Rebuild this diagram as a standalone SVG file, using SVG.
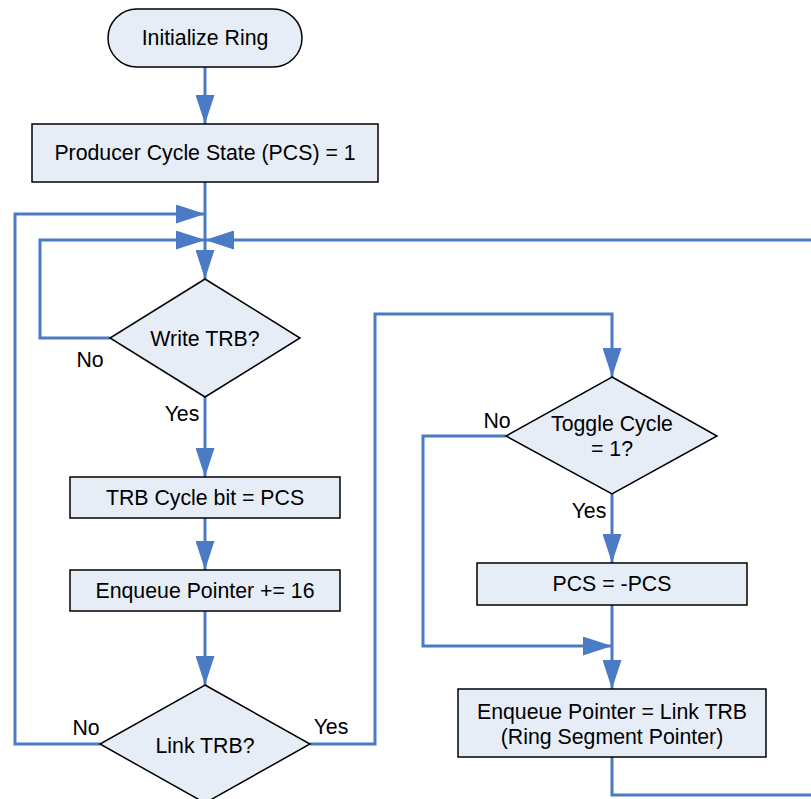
<svg xmlns="http://www.w3.org/2000/svg" width="811" height="799" viewBox="0 0 811 799">
<defs>
<style>
.n{fill:#e6edf7;stroke:#000;stroke-width:1.5}
.t{font-family:"Liberation Sans",Arial,sans-serif;font-size:21.3px;fill:#000;text-anchor:middle;dominant-baseline:central}
.c{fill:none;stroke:#4a7bc4;stroke-width:3}
.a{marker-end:url(#ah)}
</style>
<marker id="ah" markerUnits="userSpaceOnUse" markerWidth="29" markerHeight="19" viewBox="0 0 29 19" refX="29" refY="9.5" orient="auto">
<path d="M0,0 L29,9.5 L0,19 z" fill="#4a7bc4"/>
</marker>
</defs>
<rect width="811" height="799" fill="#fff"/>
<g id="connectors">
<path class="c a" d="M205,67 V124"/>
<path class="c a" d="M205,182 V279"/>
<path class="c a" d="M110,338 H40 V240 H205"/>
<path class="c a" d="M100,744 H15 V214 H205"/>
<path class="c a" d="M811,240 H205"/>
<path class="c a" d="M205,397 V477"/>
<path class="c a" d="M205,518 V570"/>
<path class="c a" d="M205,611 V685"/>
<path class="c a" d="M310,744 H375 V314 H612 V377"/>
<path class="c a" d="M612,494 V563"/>
<path class="c a" d="M506,436 H423 V646 H612"/>
<path class="c a" d="M612,605 V689"/>
<path class="c" d="M612,757 V795 H811"/>
</g>
<g id="initialize">
<rect class="n" x="108" y="9" width="194" height="58" rx="29"/>
<text class="t" x="205" y="38">Initialize Ring</text>
</g>
<g id="pcs1">
<rect class="n" x="32" y="124" width="346" height="58"/>
<text class="t" x="205" y="153">Producer Cycle State (PCS) = 1</text>
</g>
<g id="writetrb">
<polygon class="n" points="205,279 300,338 205,397 110,338"/>
<text class="t" x="205" y="339">Write TRB?</text>
</g>
<g id="cyclebit">
<rect class="n" x="70" y="477" width="270" height="41"/>
<text class="t" x="205" y="498">TRB Cycle bit = PCS</text>
</g>
<g id="enqinc">
<rect class="n" x="70" y="570" width="270" height="41"/>
<text class="t" x="205" y="591">Enqueue Pointer += 16</text>
</g>
<g id="linktrb">
<polygon class="n" points="205,685 310,744 205,803 100,744"/>
<text class="t" x="205" y="746">Link TRB?</text>
</g>
<g id="toggle">
<polygon class="n" points="612,377 717,436 612,494 506,436"/>
<text class="t" x="612" y="424">Toggle Cycle</text>
<text class="t" x="612" y="449">= 1?</text>
</g>
<g id="pcsneg">
<rect class="n" x="477" y="563" width="270" height="42"/>
<text class="t" x="612" y="584">PCS = -PCS</text>
</g>
<g id="enqlink">
<rect class="n" x="458" y="689" width="308" height="68"/>
<text class="t" x="612" y="712">Enqueue Pointer = Link TRB</text>
<text class="t" x="612" y="737">(Ring Segment Pointer)</text>
</g>
<g id="labels">
<text class="t" x="90" y="360">No</text>
<text class="t" x="182" y="414">Yes</text>
<text class="t" x="86" y="728">No</text>
<text class="t" x="331" y="727">Yes</text>
<text class="t" x="497" y="421">No</text>
<text class="t" x="589" y="511">Yes</text>
</g>
</svg>
